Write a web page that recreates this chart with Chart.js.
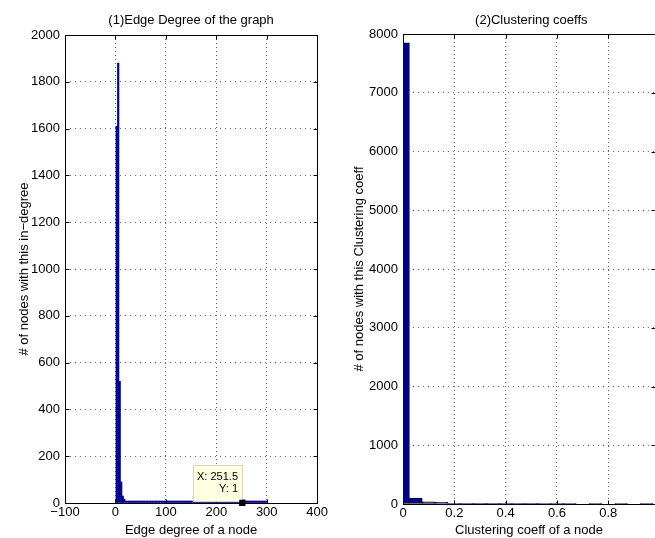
<!DOCTYPE html>
<html>
<head>
<meta charset="utf-8">
<script src="https://cdn.jsdelivr.net/npm/chart.js"></script>
<style>
  body { margin: 0; background: #fff; width: 655px; height: 538px; overflow: hidden; position: relative; }
  canvas { position: absolute; top: 0; }
  #degree { left: 0; }
  #cluster { left: 330px; }
</style>
</head>
<body>
<canvas id="degree" width="330" height="538"></canvas>
<canvas id="cluster" width="325" height="538"></canvas>
<script>
// (1) edge degree histogram, bin centres
const degreeBins = [
  2.5, 5.5, 8.5, 11.5, 14.5, 17.5, 20.5, 23.5, 26.5, 29.5,
  32.5, 35.5, 38.5, 41.5, 44.5, 47.5, 50.5, 53.5, 56.5, 59.5,
  62.5, 65.5, 68.5, 71.5, 74.5, 77.5, 80.5, 83.5, 86.5, 89.5,
  92.5, 95.5, 98.5, 101.5, 104.5, 107.5, 110.5, 113.5, 116.5, 119.5,
  122.5, 125.5, 128.5, 131.5, 134.5, 137.5, 140.5, 143.5, 146.5, 149.5,
  152.5, 155.5, 158.5, 161.5, 164.5, 167.5, 170.5, 173.5, 176.5, 179.5,
  182.5, 185.5, 188.5, 191.5, 194.5, 197.5, 200.5, 203.5, 206.5, 209.5,
  212.5, 215.5, 218.5, 221.5, 224.5, 227.5, 230.5, 233.5, 236.5, 239.5,
  242.5, 245.5, 248.5, 251.5, 254.5, 257.5, 260.5, 263.5, 266.5, 269.5,
  272.5, 275.5, 278.5, 281.5, 284.5, 287.5, 290.5, 293.5, 296.5, 299.5
];
const degreeCounts = [
  1610, 1880, 520, 90, 30, 17, 6, 5, 3, 2,
  2, 2, 1, 2, 1, 1, 1, 1, 0, 1,
  1, 0, 1, 0, 1, 0, 0, 1, 0, 0,
  1, 0, 0, 0, 1, 0, 0, 0, 0, 1,
  0, 0, 1, 0, 0, 0, 0, 1, 0, 0,
  0, 0, 0, 1, 0, 0, 0, 0, 0, 0,
  0, 0, 1, 0, 0, 0, 0, 0, 0, 0,
  0, 0, 0, 0, 0, 1, 0, 0, 0, 0,
  0, 0, 0, 1, 0, 0, 0, 0, 0, 0,
  0, 0, 0, 0, 0, 0, 0, 0, 0, 1
];
const degreeTip = { x: 251.5, y: 1 };

// (2) clustering coefficient histogram, bin centres
const clusterBins = [0, 0.05, 0.1, 0.15, 0.2, 0.25, 0.3, 0.35, 0.4, 0.45, 0.5,
  0.55, 0.6, 0.65, 0.7, 0.75, 0.8, 0.85, 0.9, 0.95];
const clusterCounts = [7850, 100, 35, 30, 6, 4, 4, 3, 2, 2, 2,
  1, 1, 1, 0, 1, 0, 1, 0, 1];

const FONT = "'Liberation Sans', Arial, Helvetica, sans-serif";
const NAVY = '#00008F';
Chart.defaults.font.family = FONT;
Chart.defaults.font.size = 13;
Chart.defaults.color = '#000';

const minus = v => String(v).replace('-', '\u2212');

// MATLAB style axes box with inward ticks and a title
const axesBox = {
  id: 'axesBox',
  beforeDatasetsDraw(chart, args, opts) {
    const { ctx, chartArea: a, scales } = chart;
    const L = Math.round(a.left) + 0.5, T = Math.round(a.top) + 0.5;
    const R = Math.round(a.right) + 0.5, B = Math.round(a.bottom) + 0.5;
    ctx.save();
    ctx.strokeStyle = '#000';
    ctx.lineWidth = 1;
    ctx.strokeRect(L, T, R - L, B - T);
    ctx.beginPath();
    const tl = 4;
    scales.x.ticks.forEach(t => {
      const px = Math.round(scales.x.getPixelForValue(t.value)) + 0.5;
      ctx.moveTo(px, B); ctx.lineTo(px, B - tl);
      ctx.moveTo(px, T); ctx.lineTo(px, T + tl);
    });
    scales.y.ticks.forEach(t => {
      const py = Math.round(scales.y.getPixelForValue(t.value)) + 0.5;
      ctx.moveTo(L, py); ctx.lineTo(L + tl, py);
      ctx.moveTo(R, py); ctx.lineTo(R - tl, py);
    });
    ctx.stroke();
    ctx.restore();
  },
  afterDraw(chart, args, opts) {
    const { ctx, scales } = chart;
    ctx.save();
    ctx.fillStyle = '#000';
    ctx.font = '13px ' + FONT;
    ctx.textAlign = 'center';
    ctx.textBaseline = 'middle';
    ctx.fillText(opts.text, scales.x.getPixelForValue(opts.at), 20);
    ctx.restore();
  }
};

// data tip box next to the marked point
const datatip = {
  id: 'datatip',
  afterDatasetsDraw(chart) {
    const ds = chart.data.datasets[1];
    if (!ds) return;
    const p = chart.getDatasetMeta(1).data[0];
    const raw = ds.data[0];
    const ctx = chart.ctx;
    const w = 50, h = 37;
    const x1 = Math.round(p.x) + 1, y1 = Math.round(p.y) - 1;
    ctx.save();
    ctx.fillStyle = '#FFFFE1';
    ctx.fillRect(x1 - w, y1 - h, w, h);
    ctx.strokeStyle = '#D4D4C0';
    ctx.strokeRect(x1 - w + 0.5, y1 - h + 0.5, w - 1, h - 1);
    ctx.fillStyle = '#000';
    ctx.font = '11px ' + FONT;
    ctx.textAlign = 'right';
    ctx.textBaseline = 'middle';
    ctx.fillText('X: ' + raw.x, x1 - 5, y1 - h + 12);
    ctx.fillText('Y: ' + raw.y, x1 - 5, y1 - h + 24);
    // marker on top of the box corner
    p.draw(ctx);
    ctx.restore();
  }
};

function xAxis(min, max, step, title, height, fmt) {
  const ticks = { stepSize: step, padding: 2, includeBounds: false, maxRotation: 0 };
  if (fmt) ticks.callback = fmt;
  return {
    type: 'linear', min, max, offset: false,
    grid: { color: '#666', lineWidth: 1, drawTicks: false, offset: false },
    border: { display: false, dash: [1, 3] },
    ticks,
    title: { display: true, text: title, padding: { top: 0, bottom: 0 } },
    afterFit: s => { s.height = height; }
  };
}
function yAxis(max, step, title, width, titlePad) {
  return {
    min: 0, max,
    grid: { color: '#666', lineWidth: 1, drawTicks: false },
    border: { display: false, dash: [1, 4] },
    ticks: { stepSize: step, padding: 5, callback: v => String(v) },
    title: { display: true, text: title, padding: { top: titlePad, bottom: 0 } },
    afterFit: s => { s.width = width; }
  };
}

new Chart(document.getElementById('degree'), {
  type: 'bar',
  data: {
    datasets: [{
      data: degreeBins.map((b, i) => ({ x: b, y: degreeCounts[i] })),
      backgroundColor: NAVY,
      borderWidth: 0,
      barPercentage: 1,
      categoryPercentage: 1,
      minBarLength: 2
    }, {
      type: 'scatter',
      data: [degreeTip],
      pointStyle: 'rect',
      pointRadius: 4.3,
      backgroundColor: '#000',
      borderWidth: 0,
      clip: false
    }]
  },
  options: {
    responsive: false,
    animation: false,
    events: [],
    devicePixelRatio: 1,
    layout: { padding: { top: 35, right: 8, left: 0, bottom: 0 } },
    plugins: {
      legend: { display: false },
      tooltip: { enabled: false },
      axesBox: { text: '(1)Edge Degree of the graph', at: 150 }
    },
    scales: {
      x: xAxis(-100, 400, 100, 'Edge degree of a node', 35, v => minus(v)),
      y: yAxis(2000, 200, '# of nodes with this in\u2212degree', 65, 17)
    }
  },
  plugins: [axesBox, datatip]
});

new Chart(document.getElementById('cluster'), {
  type: 'bar',
  data: {
    datasets: [{
      data: clusterBins.map((b, i) => ({ x: b, y: clusterCounts[i] })),
      backgroundColor: NAVY,
      borderColor: '#000',
      borderWidth: 1,
      borderSkipped: false,
      barPercentage: 1,
      categoryPercentage: 1
    }]
  },
  options: {
    responsive: false,
    animation: false,
    events: [],
    devicePixelRatio: 1,
    layout: { padding: { top: 34, right: 0, left: 0, bottom: 0 } },
    plugins: {
      legend: { display: false },
      tooltip: { enabled: false },
      axesBox: { text: '(2)Clustering coeffs', at: 0.5 }
    },
    scales: {
      x: xAxis(0, 0.982, 0.2, 'Clustering coeff of a node', 34),
      y: yAxis(8000, 1000, '# of nodes with this Clustering coeff', 73, 22)
    }
  },
  plugins: [axesBox]
});
</script>
</body>
</html>
